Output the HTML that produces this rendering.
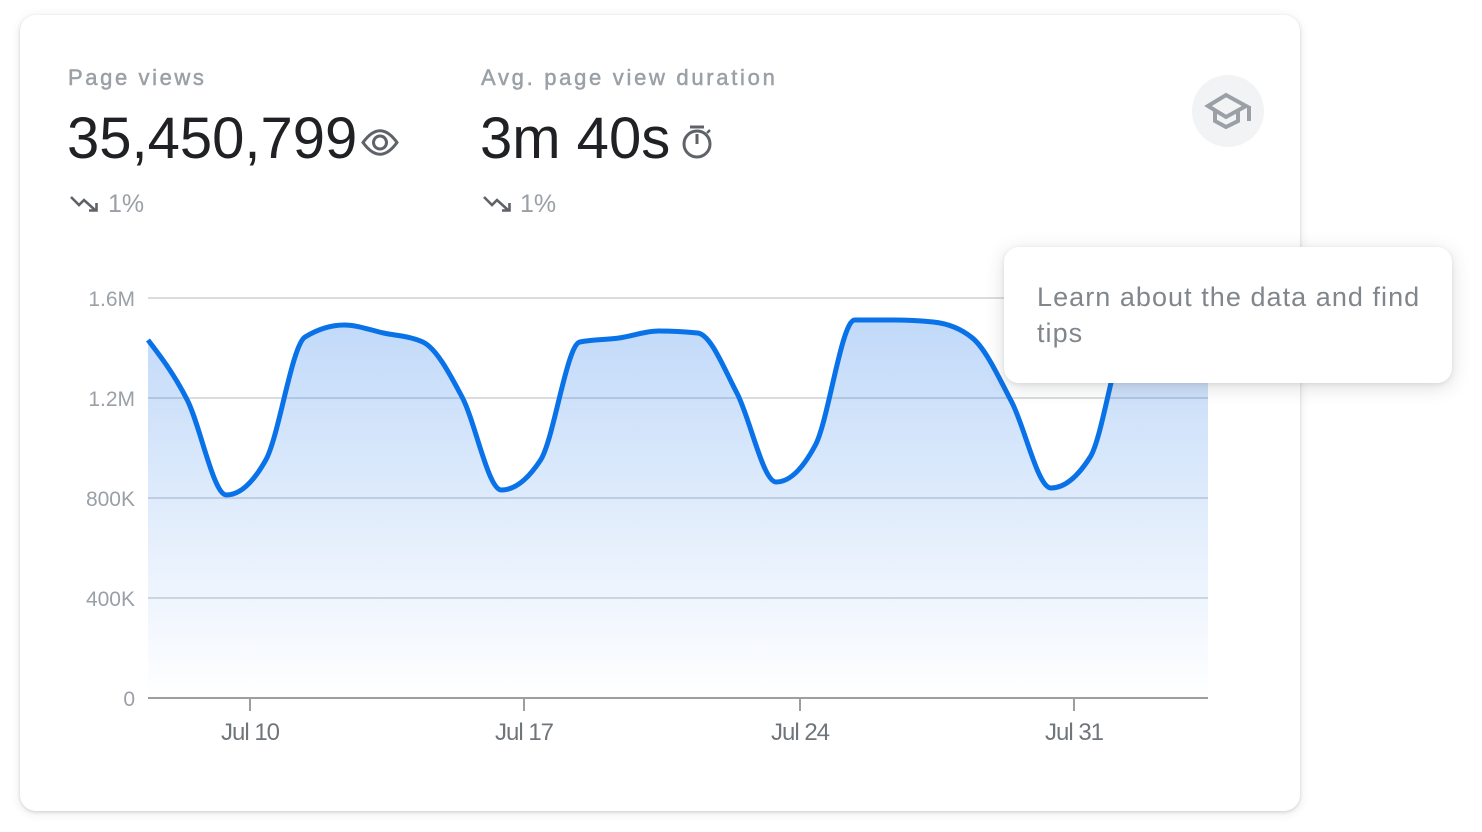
<!DOCTYPE html>
<html><head><meta charset="utf-8">
<style>
html,body{margin:0;padding:0;background:#fff;}
body{width:1482px;height:832px;position:relative;overflow:hidden;font-family:"Liberation Sans",sans-serif;}
.card{position:absolute;left:20px;top:15px;width:1280px;height:796px;border-radius:16px;background:#fff;box-shadow:0 1px 3px rgba(60,64,67,0.18),0 2px 10px rgba(60,64,67,0.12);}
svg.main{position:absolute;left:0;top:0;}
.tip{position:absolute;left:1004px;top:247px;width:448px;height:136px;border-radius:15px;background:#fff;box-shadow:0 4px 18px rgba(60,64,67,0.18),0 1px 4px rgba(60,64,67,0.10);}
.tip div{position:absolute;left:33px;top:32px;width:412px;font-size:27px;line-height:36px;color:#80868b;letter-spacing:1.05px;font-family:"Liberation Sans",sans-serif;}
</style></head><body>
<div class="card"></div>
<svg class="main" width="1482" height="832" viewBox="0 0 1482 832" xmlns="http://www.w3.org/2000/svg">
<defs>
<linearGradient id="fg" x1="0" y1="320" x2="0" y2="698" gradientUnits="userSpaceOnUse">
<stop offset="0" stop-color="#1a73e8" stop-opacity="0.27"/>
<stop offset="1" stop-color="#1a73e8" stop-opacity="0.0"/>
</linearGradient>
</defs>
<!-- headers -->
<text x="68" y="85" font-size="22" fill="#9aa0a6" letter-spacing="2.6" stroke="#9aa0a6" stroke-width="0.5" font-family="Liberation Sans, sans-serif">Page views</text>
<text x="481" y="85" font-size="22" fill="#9aa0a6" letter-spacing="2.7" stroke="#9aa0a6" stroke-width="0.5" font-family="Liberation Sans, sans-serif">Avg. page view duration</text>
<text x="67" y="158" font-size="58" fill="#202124" font-family="Liberation Sans, sans-serif">35,450,799</text>
<text x="480" y="158" font-size="58" fill="#202124" font-family="Liberation Sans, sans-serif">3m 40s</text>
<!-- eye icon -->
<path d="M363,142.5 Q380,119 397,142.5 Q380,166 363,142.5 Z" fill="none" stroke="#5f6368" stroke-width="3"/>
<circle cx="380" cy="142.5" r="6.5" fill="none" stroke="#5f6368" stroke-width="3"/>
<!-- stopwatch -->
<circle cx="697" cy="144" r="13" fill="none" stroke="#5f6368" stroke-width="3"/>
<line x1="690" y1="127" x2="704" y2="127" stroke="#5f6368" stroke-width="3"/>
<line x1="697" y1="134" x2="697" y2="144" stroke="#5f6368" stroke-width="3"/>
<line x1="707" y1="133" x2="710" y2="130" stroke="#5f6368" stroke-width="2.5"/>
<!-- trend icons -->
<g fill="none" stroke="#5f6368" stroke-width="2.6">
<path d="M71,197 L79,205 L84,200 L95,210"/>
<path d="M89,210.5 H96.5 V203"/>
<path d="M484,197 L492,205 L497,200 L508,210"/>
<path d="M502,210.5 H509.5 V203"/>
</g>
<text x="108" y="212" font-size="25" fill="#9aa0a6" font-family="Liberation Sans, sans-serif">1%</text>
<text x="520" y="212" font-size="25" fill="#9aa0a6" font-family="Liberation Sans, sans-serif">1%</text>
<!-- cap button -->
<circle cx="1228" cy="111" r="36" fill="#f1f3f4"/>
<g fill="none" stroke="#9aa0a6" stroke-width="4" stroke-linejoin="miter">
<path d="M1208,106 L1226,95 L1246,106 L1226,117 Z"/>
<path d="M1215,111 V121 L1226,127 L1238,121 V111"/>
<path d="M1249,106 V121"/>
</g>
<!-- grid -->
<g stroke="#dadce0" stroke-width="2">
<line x1="148" y1="298" x2="1208" y2="298"/>
<line x1="148" y1="398" x2="1208" y2="398"/>
<line x1="148" y1="498" x2="1208" y2="498"/>
<line x1="148" y1="598" x2="1208" y2="598"/>
</g>
<!-- y labels -->
<g font-size="21" fill="#9aa0a6" text-anchor="end" font-family="Liberation Sans, sans-serif">
<text x="135" y="306">1.6M</text>
<text x="135" y="406">1.2M</text>
<text x="135" y="506">800K</text>
<text x="135" y="606">400K</text>
<text x="135" y="706">0</text>
</g>
<!-- area -->
<path fill="url(#fg)" d="M148,340 C161.09,357.08 174.17,374.17 187.26,400 C200.35,425.83 213.43,495 226.52,495 C239.61,495 252.69,483.33 265.78,460 C278.87,436.67 291.95,345 305.04,337 C318.13,329 331.21,325 344.3,325 C357.39,325 370.47,330.17 383.56,333 C396.65,335.83 409.72,336 422.81,342 C435.9,348 448.98,372.33 462.07,397 C475.16,421.67 488.24,490 501.33,490 C514.42,490 527.5,480 540.59,460 C553.68,440 566.76,344.67 579.85,342 C592.94,339.33 606.02,339.83 619.11,338 C632.2,336.17 645.28,331 658.37,331 C671.46,331 684.54,331.67 697.63,333 C710.72,334.33 723.8,368.17 736.89,393 C749.98,417.83 763.06,482 776.15,482 C789.24,482 802.32,469.67 815.41,445 C828.5,420.33 841.58,320 854.67,320 C867.76,320 880.84,320 893.93,320 C907.02,320 920.1,320.67 933.19,322 C946.28,323.33 959.35,327.33 972.44,338 C985.53,348.67 998.61,377 1011.7,402 C1024.79,427 1037.87,488 1050.96,488 C1064.05,488 1077.13,477.67 1090.22,457 C1103.31,436.33 1116.39,335.33 1129.48,330 C1142.57,324.67 1155.65,322 1168.74,322 C1181.83,322 1194.91,325 1208,328 L1208,698 L148,698 Z"/>
<path fill="none" stroke="#0a72e8" stroke-width="5" stroke-linejoin="round" d="M148,340 C161.09,357.08 174.17,374.17 187.26,400 C200.35,425.83 213.43,495 226.52,495 C239.61,495 252.69,483.33 265.78,460 C278.87,436.67 291.95,345 305.04,337 C318.13,329 331.21,325 344.3,325 C357.39,325 370.47,330.17 383.56,333 C396.65,335.83 409.72,336 422.81,342 C435.9,348 448.98,372.33 462.07,397 C475.16,421.67 488.24,490 501.33,490 C514.42,490 527.5,480 540.59,460 C553.68,440 566.76,344.67 579.85,342 C592.94,339.33 606.02,339.83 619.11,338 C632.2,336.17 645.28,331 658.37,331 C671.46,331 684.54,331.67 697.63,333 C710.72,334.33 723.8,368.17 736.89,393 C749.98,417.83 763.06,482 776.15,482 C789.24,482 802.32,469.67 815.41,445 C828.5,420.33 841.58,320 854.67,320 C867.76,320 880.84,320 893.93,320 C907.02,320 920.1,320.67 933.19,322 C946.28,323.33 959.35,327.33 972.44,338 C985.53,348.67 998.61,377 1011.7,402 C1024.79,427 1037.87,488 1050.96,488 C1064.05,488 1077.13,477.67 1090.22,457 C1103.31,436.33 1116.39,335.33 1129.48,330 C1142.57,324.67 1155.65,322 1168.74,322 C1181.83,322 1194.91,325 1208,328"/>
<!-- x axis -->
<line x1="148" y1="698" x2="1208" y2="698" stroke="#9e9e9e" stroke-width="2"/>
<g stroke="#9e9e9e" stroke-width="2">
<line x1="250" y1="698" x2="250" y2="711"/>
<line x1="524" y1="698" x2="524" y2="711"/>
<line x1="800" y1="698" x2="800" y2="711"/>
<line x1="1074" y1="698" x2="1074" y2="711"/>
</g>
<g font-size="24" fill="#70757a" text-anchor="middle" letter-spacing="-1" font-family="Liberation Sans, sans-serif">
<text x="250" y="740">Jul 10</text>
<text x="524" y="740">Jul 17</text>
<text x="800" y="740">Jul 24</text>
<text x="1074" y="740">Jul 31</text>
</g>
</svg>
<div class="tip"><div>Learn about the data and find tips</div></div>
</body></html>
